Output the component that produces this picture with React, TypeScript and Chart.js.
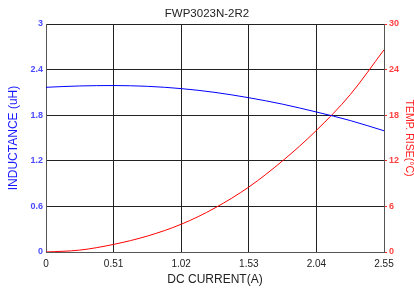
import React, { useEffect, useRef } from "react";
import { Chart, registerables } from "chart.js";

Chart.register(...registerables);

const titleText = "FWP3023N-2R2";
const currents = [0, 0.255, 0.51, 0.765, 1.02, 1.275, 1.53, 1.785, 2.04, 2.295, 2.55];
const inductance = [2.167, 2.185, 2.19, 2.18, 2.15, 2.1, 2.03, 1.945, 1.842, 1.73, 1.595];
const tempRise = [0, 0.25, 1.0, 2.1, 3.65, 5.8, 8.55, 12.0, 16.0, 20.7, 26.6];
const xTicks = [0, 0.51, 1.02, 1.53, 2.04, 2.55];
const yLeftTicks = [0, 0.6, 1.2, 1.8, 2.4, 3];
const yRightTicks = [0, 6, 12, 18, 24, 30];

const FONT = "'Liberation Sans', Arial, sans-serif";

export default function App() {
  const ref = useRef<HTMLCanvasElement | null>(null);

  useEffect(() => {
    if (!ref.current) return;
    const chart = new Chart(ref.current, {
      type: "line",
      data: {
        datasets: [
          {
            label: "Inductance",
            data: currents.map((c, i) => ({ x: c, y: inductance[i] })),
            borderColor: "#0000ff",
            borderWidth: 1,
            pointRadius: 0,
            cubicInterpolationMode: "monotone",
            yAxisID: "y",
          },
          {
            label: "Temp rise",
            data: currents.map((c, i) => ({ x: c, y: tempRise[i] })),
            borderColor: "#ff0000",
            borderWidth: 1,
            pointRadius: 0,
            cubicInterpolationMode: "monotone",
            yAxisID: "y2",
          },
        ],
      },
      options: {
        animation: false,
        responsive: false,
        maintainAspectRatio: false,
        layout: { padding: 0 },
        plugins: {
          legend: { display: false },
          tooltip: { enabled: false },
          title: {
            display: true,
            text: titleText,
            color: "#222",
            font: { family: FONT, size: 11.5, weight: "normal" },
            padding: { top: 7, bottom: 3.2 },
          },
        },
        scales: {
          x: {
            type: "linear",
            min: 0,
            max: 2.55,
            afterBuildTicks: (s: any) => {
              s.ticks = xTicks.map((v) => ({ value: v }));
            },
            afterFit: (s: any) => {
              s.height = 42;
            },
            ticks: {
              color: "#222",
              font: { family: FONT, size: 10 },
              padding: 6,
              maxRotation: 0,
              autoSkip: false,
              callback: (v: any) => String(v),
            },
            grid: { color: "#222", lineWidth: 1, drawTicks: false },
            border: { color: "#555", width: 1 },
            title: {
              display: true,
              text: "DC CURRENT(A)",
              color: "#222",
              font: { family: FONT, size: 12 },
              padding: { top: 0, bottom: 6.8 },
            },
          },
          y: {
            type: "linear",
            position: "left",
            min: 0,
            max: 3,
            afterBuildTicks: (s: any) => {
              s.ticks = yLeftTicks.map((v) => ({ value: v }));
            },
            afterFit: (s: any) => {
              s.width = 46;
            },
            ticks: {
              color: "#4a4aff",
              font: { family: FONT, size: 9, weight: "bold" },
              padding: 3,
              callback: (v: any) => String(v),
            },
            grid: { color: "#222", lineWidth: 1, drawTicks: false },
            border: { color: "#555", width: 1 },
            title: {
              display: true,
              text: "INDUCTANCE (uH)",
              color: "#1a1aff",
              font: { family: FONT, size: 12 },
              padding: { top: 6.5, bottom: 0 },
            },
          },
          y2: {
            type: "linear",
            position: "right",
            min: 0,
            max: 30,
            afterBuildTicks: (s: any) => {
              s.ticks = yRightTicks.map((v) => ({ value: v }));
            },
            afterFit: (s: any) => {
              s.width = 30;
            },
            ticks: {
              color: "#ff4040",
              font: { family: FONT, size: 9, weight: "bold" },
              padding: 2,
              callback: (v: any) => String(v),
            },
            grid: {
              drawOnChartArea: false,
              color: "#ff2020",
              tickColor: "#ff2020",
              tickLength: 3,
              lineWidth: 1,
            },
            border: { color: "#555", width: 1 },
            title: {
              display: true,
              text: "TEMP. RISE(°C)",
              color: "#ff2020",
              font: { family: FONT, size: 10.5 },
              padding: { top: -1.5, bottom: 0 },
            },
          },
        },
      },
    });
    return () => chart.destroy();
  }, []);

  return (
    <div style={{ position: "fixed", left: 0, top: 0, width: 414, height: 294, background: "#fff" }}>
      <canvas ref={ref} width={414} height={294} style={{ display: "block", width: 414, height: 294 }} />
    </div>
  );
}
